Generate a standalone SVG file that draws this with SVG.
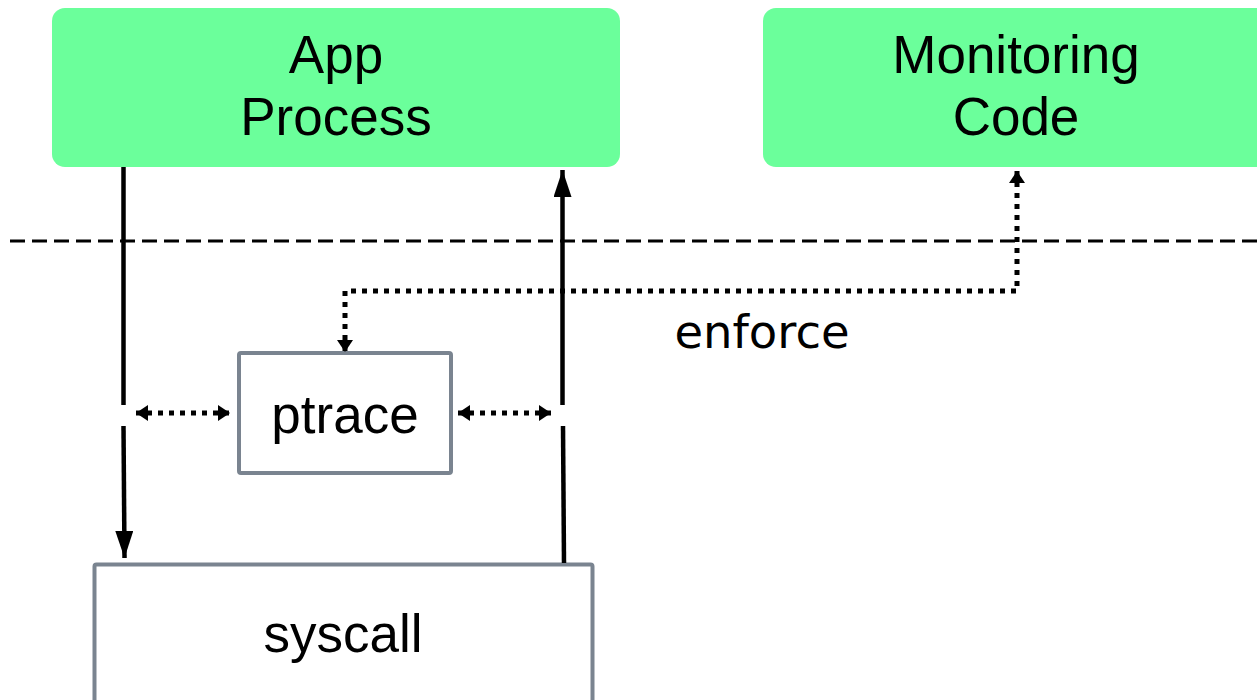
<svg xmlns="http://www.w3.org/2000/svg" width="1257" height="700" viewBox="0 0 1257 700">
  <style>
    .proc { fill: #6bff9b; }
    .box { fill: #ffffff; stroke: #7a8490; stroke-width: 4; }
    .label { font-family: "Liberation Sans", Arial, sans-serif; font-size: 53px; fill: #000; text-anchor: middle; }
    .note { font-family: "DejaVu Sans", Verdana, sans-serif; font-size: 46.5px; fill: #000; text-anchor: middle; }
    .flow { fill: none; stroke: #000; stroke-width: 4.5; }
    .dots { fill: none; stroke: #000; stroke-width: 5; stroke-dasharray: 5 6; }
    .divider { fill: none; stroke: #000; stroke-width: 3.2; stroke-dasharray: 15 7; }
  </style>
  <defs>
    <marker id="solidHead" viewBox="0 0 27 18" refX="27" refY="9" markerWidth="27" markerHeight="18" markerUnits="userSpaceOnUse" orient="auto">
      <path d="M0,0 L27,9 L0,18 Z" fill="#000"/>
    </marker>
    <marker id="dotHead" viewBox="0 0 12 16" refX="12" refY="8" markerWidth="12" markerHeight="16" markerUnits="userSpaceOnUse" orient="auto-start-reverse">
      <path d="M0,0 L12,8 L0,16 Z" fill="#000"/>
    </marker>
  </defs>

  <!-- user / kernel boundary -->
  <line class="divider" x1="10" y1="241" x2="1257" y2="241"/>

  <g id="app-process">
    <rect class="proc" x="52" y="8" width="568" height="159" rx="13"/>
    <text class="label" x="336" y="73">App</text>
    <text class="label" x="336" y="135">Process</text>
  </g>

  <g id="monitoring-code">
    <rect class="proc" x="763" y="8" width="520" height="159" rx="13"/>
    <text class="label" x="1016" y="73">Monitoring</text>
    <text class="label" x="1016" y="135">Code</text>
  </g>

  <g id="ptrace">
    <rect class="box" x="239" y="353" width="212" height="120" rx="2"/>
    <text class="label" x="345" y="433">ptrace</text>
  </g>

  <g id="syscall">
    <rect class="box" x="94.5" y="564.5" width="498" height="150" rx="2"/>
    <text class="label" x="343" y="652">syscall</text>
  </g>

  <g id="connectors">
    <!-- call path down into the kernel -->
    <line class="flow" x1="123.5" y1="167" x2="123.5" y2="405"/>
    <line class="flow" x1="123.5" y1="426" x2="124.5" y2="558" marker-end="url(#solidHead)"/>
    <!-- return path back to the process -->
    <line class="flow" x1="564" y1="563" x2="563" y2="426"/>
    <line class="flow" x1="562.5" y1="405" x2="562.5" y2="170" marker-end="url(#solidHead)"/>
    <!-- interception on both sides -->
    <line class="dots" x1="136" y1="413" x2="230" y2="413" marker-start="url(#dotHead)" marker-end="url(#dotHead)"/>
    <line class="dots" x1="458" y1="413" x2="551" y2="413" marker-start="url(#dotHead)" marker-end="url(#dotHead)"/>
    <!-- enforcement link -->
    <path class="dots" d="M1017,171 L1017,291 L345,291 L345,352" marker-start="url(#dotHead)" marker-end="url(#dotHead)"/>
    <text class="note" x="762" y="348">enforce</text>
  </g>
</svg>
